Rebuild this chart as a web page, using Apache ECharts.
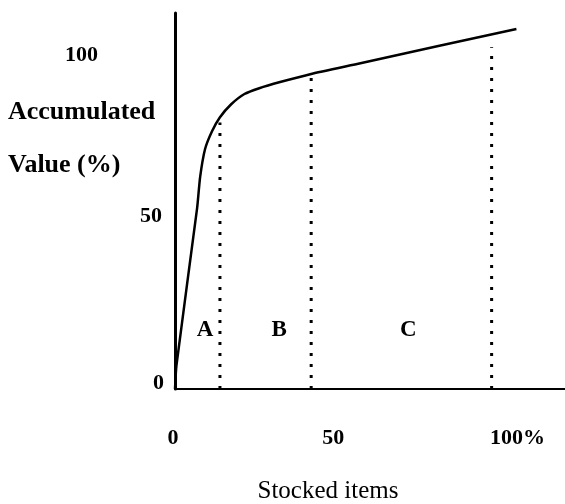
<!DOCTYPE html>
<html>
<head>
<meta charset="utf-8">
<script src="https://cdn.jsdelivr.net/npm/echarts@6/dist/echarts.min.js"></script>
<style>
  html, body { margin: 0; padding: 0; background: #fff; }
  #chart { width: 565px; height: 504px; }
</style>
</head>
<body>
<div id="chart"></div>
<script>
// accumulated value curve (x: % of stocked items, y: % of value)
const curveX = [0, 0.45, 6.7, 7.6, 9.1, 11.2, 13.6, 17.0, 21.0, 25.5, 31.8, 40.9, 56.1, 80.0, 103.3];
const curveY = [0, 7.0, 53.0, 62.0, 70.2, 75.4, 79.5, 83.3, 86.3, 88.0, 89.8, 92.1, 95.3, 100.4, 105.3];

// class boundaries (dotted lines)
const boundX = [13.6, 41.2, 95.8];
const boundTop = [78, 91, 100];

// class labels
const zoneNames = ['A', 'B', 'C'];
const zoneX = [9.1, 31.5, 70.6];
const zoneY = [17.3, 17.3, 17.3];

const xTicks = [0, 50, 100];
const yTicks = [0, 50, 100];

const font = 'Liberation Serif';
const chart = echarts.init(document.getElementById('chart'));

const series = [
  {
    type: 'line',
    data: curveX.map((x, i) => [x, curveY[i]]),
    showSymbol: false,
    smooth: 0.2,
    lineStyle: { color: '#000', width: 2.5 },
    z: 5
  }
];
boundX.forEach((x, i) => {
  series.push({
    type: 'line',
    data: [[x, 0], [x, boundTop[i]]],
    showSymbol: false,
    lineStyle: { color: '#000', width: 3, type: [3, 8] },
    z: 3
  });
});
series.push({
  type: 'scatter',
  data: zoneX.map((x, i) => ({ value: [x, zoneY[i]], name: zoneNames[i] })),
  symbolSize: 0,
  itemStyle: { opacity: 1 },
  label: {
    show: true,
    position: 'inside',
    formatter: p => p.name,
    fontFamily: font,
    fontWeight: 'bold',
    fontSize: 23,
    color: '#000'
  }
});

const numStyle = { fontFamily: font, fontWeight: 'bold', fontSize: 22, color: '#000' };

const option = {
  animation: false,
  title: [
    {
      text: 'Accumulated\nValue (%)',
      left: 8,
      top: 86,
      padding: 0,
      textStyle: { fontFamily: font, fontWeight: 'bold', fontSize: 26, lineHeight: 53, color: '#000' }
    },
    {
      text: 'Stocked items',
      left: 328,
      textAlign: 'center',
      top: 479,
      padding: 0,
      textStyle: { fontFamily: font, fontWeight: 'normal', fontSize: 25, lineHeight: 25, color: '#000' }
    }
  ],
  grid: { left: 175, right: 0, top: 13, bottom: 115 },
  xAxis: {
    type: 'value',
    min: 0,
    max: 118,
    interval: 50,
    axisLine: { show: true, onZero: false, lineStyle: { color: '#000', width: 2 } },
    axisTick: { show: false },
    splitLine: { show: false },
    axisLabel: {
      showMaxLabel: false,
      margin: 38,
      fontFamily: font,
      fontWeight: 'bold',
      fontSize: 22,
      color: '#000',
      formatter: v => {
        if (!xTicks.includes(v)) return '';
        if (v === 100) return '{r|100%}';
        if (v === 50) return '{l|50}';
        return '{z|0}';
      },
      rich: {
        z: Object.assign({ padding: [0, 4, 0, 0] }, numStyle),
        l: Object.assign({ padding: [0, 14, 0, 0] }, numStyle),
        r: Object.assign({ padding: [0, 0, 0, 24] }, numStyle)
      }
    }
  },
  yAxis: {
    type: 'value',
    min: 0,
    max: 110,
    interval: 50,
    axisLine: { show: true, lineStyle: { color: '#000', width: 3 } },
    axisTick: { show: false },
    splitLine: { show: false },
    axisLabel: {
      showMaxLabel: false,
      margin: 11,
      fontFamily: font,
      fontWeight: 'bold',
      fontSize: 22,
      color: '#000',
      formatter: v => yTicks.includes(v) ? (v === 100 ? '{far|100}' : (v === 0 ? '{low|0}' : '{mid|' + v + '}')) : '',
      rich: {
        far: Object.assign({ padding: [16, 66, 0, 0] }, numStyle),
        mid: Object.assign({ padding: [0, 2, 4, 0] }, numStyle),
        low: Object.assign({ padding: [0, 0, 12, 0] }, numStyle)
      }
    }
  },
  series: series
};

chart.setOption(option);
</script>
</body>
</html>
